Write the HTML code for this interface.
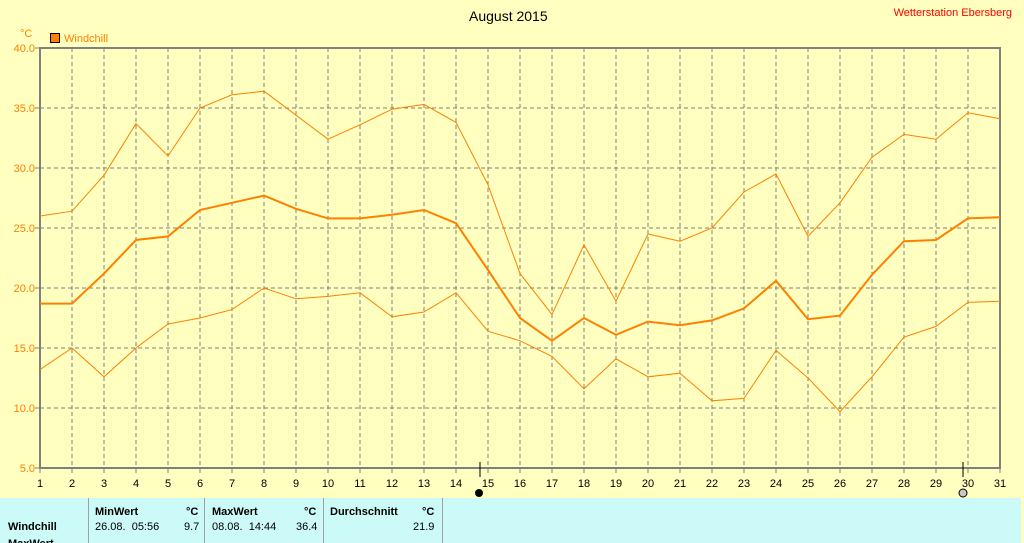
<!DOCTYPE html>
<html><head><meta charset="utf-8"><style>
body{margin:0;width:1024px;height:543px;overflow:hidden;background:#ffffc0;font-family:"Liberation Sans",Arial,sans-serif}
svg{position:absolute;left:0;top:0}
.p{position:absolute;left:0;top:498px;width:1021px;height:45px;background:#ccfaf8;font-size:11px;color:#000;overflow:hidden}
.p div{position:absolute;white-space:nowrap}
.sep{position:absolute;top:0;width:1px;height:45px;background:#a0a0a0}
</style></head><body>
<svg id="s" width="1024" height="498" font-family="Liberation Sans, Arial, sans-serif"></svg>
<div class="p">
<div class="sep" style="left:88px"></div><div class="sep" style="left:204px"></div><div class="sep" style="left:323px"></div><div class="sep" style="left:442px"></div>
<div style="left:8px;top:23px;font-weight:bold">Windchill</div>
<div style="left:8px;top:40px;font-weight:bold">MaxWert</div>
<div style="left:95px;top:8px;font-weight:bold">MinWert</div><div style="left:186px;top:8px;font-weight:bold">°C</div>
<div style="left:95px;top:23px">26.08.&nbsp; 05:56</div><div style="left:184px;top:23px">9.7</div>
<div style="left:212px;top:8px;font-weight:bold">MaxWert</div><div style="left:304px;top:8px;font-weight:bold">°C</div>
<div style="left:212px;top:23px">08.08.&nbsp; 14:44</div><div style="left:296px;top:23px">36.4</div>
<div style="left:330px;top:8px;font-weight:bold">Durchschnitt</div><div style="left:422px;top:8px;font-weight:bold">°C</div>
<div style="left:413px;top:23px">21.9</div>
</div>
<script>
var mx=[26.0,26.4,29.4,33.7,31.0,35.0,36.1,36.4,34.4,32.4,33.6,34.9,35.3,33.8,28.6,21.2,17.8,23.6,18.9,24.5,23.9,25.0,28.0,29.5,24.3,27.1,30.9,32.8,32.4,34.6,34.1];
var av=[18.7,18.7,21.2,24.0,24.3,26.5,27.1,27.7,26.6,25.8,25.8,26.1,26.5,25.4,21.5,17.5,15.6,17.5,16.1,17.2,16.9,17.3,18.3,20.6,17.4,17.7,21.1,23.9,24.0,25.8,25.9];
var mn=[13.2,15.0,12.6,15.0,17.0,17.5,18.2,20.0,19.1,19.3,19.6,17.6,18.0,19.6,16.4,15.6,14.3,11.6,14.1,12.6,12.9,10.6,10.8,14.8,12.5,9.7,12.6,15.9,16.8,18.8,18.9];
function X(d){return 40+(d-1)*32}function Y(v){return 48+(40-v)*12}
var h='';
h+='<text x="469" y="21" font-size="14" fill="#000">August 2015</text>';
h+='<text x="1012" y="16" font-size="11" fill="#ff0000" text-anchor="end">Wetterstation Ebersberg</text>';
h+='<text x="20" y="37" font-size="11" fill="#ff8000">°C</text>';
h+='<rect x="50.5" y="33.5" width="9" height="9" fill="#ff8000" stroke="#000"/>';
h+='<text x="64" y="42" font-size="11" fill="#ff8000">Windchill</text>';
for(var d=2;d<=30;d++)h+='<line x1="'+X(d)+'" y1="48" x2="'+X(d)+'" y2="468" stroke="#808080" stroke-dasharray="4,3"/>';
for(var v=10;v<=35;v+=5)h+='<line x1="40" y1="'+Y(v)+'" x2="1000" y2="'+Y(v)+'" stroke="#808080" stroke-dasharray="4,3"/>';
for(var v=5;v<=40;v+=5){h+='<text x="35" y="'+(Y(v)+4)+'" font-size="11" fill="#ff8000" text-anchor="end">'+v.toFixed(1)+'</text><line x1="35" y1="'+Y(v)+'" x2="40" y2="'+Y(v)+'" stroke="#808080"/>';}
for(var d=1;d<=31;d++){h+='<line x1="'+X(d)+'" y1="468" x2="'+X(d)+'" y2="473" stroke="#808080"/><text x="'+X(d)+'" y="487" font-size="11" fill="#000" text-anchor="middle">'+d+'</text>';}
h+='<rect x="40" y="48" width="960" height="420" fill="none" stroke="#808080" stroke-width="2"/>';
function pl(a,w){return '<polyline fill="none" stroke="#ff8000" stroke-width="'+w+'" points="'+a.map(function(v,i){return X(i+1)+','+Y(v)}).join(' ')+'"/>'}
h+=pl(mx,1)+pl(mn,1)+pl(av,2);
h+='<line x1="480" y1="462" x2="480" y2="477" stroke="#000"/><circle cx="479" cy="493" r="4" fill="#000"/>';
h+='<line x1="963" y1="462" x2="963" y2="477" stroke="#000"/><circle cx="963" cy="493" r="4" fill="#c8c8c8" stroke="#000"/>';
document.getElementById('s').innerHTML=h;
</script>
</body></html>
